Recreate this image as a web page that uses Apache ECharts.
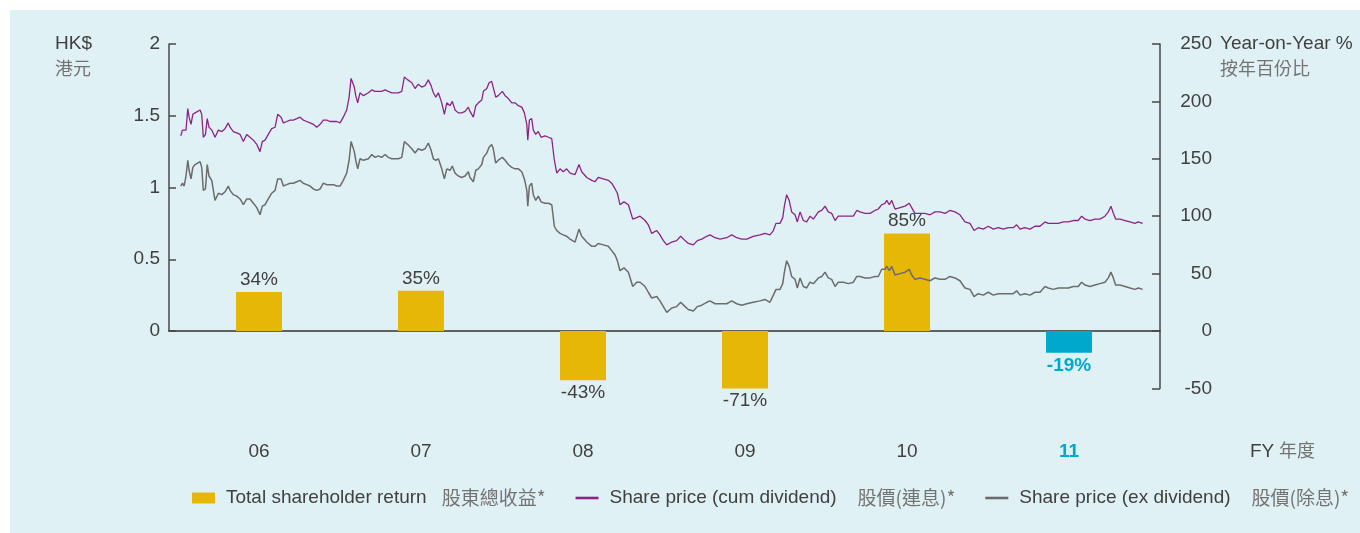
<!DOCTYPE html>
<html><head><meta charset="utf-8">
<script src="https://cdn.jsdelivr.net/npm/echarts@6/dist/echarts.min.js"></script>
<style>html,body{margin:0;padding:0;background:#fff}#c{width:1360px;height:533px}</style>
</head><body><div id="c"></div>
<script>
// ---- Data ----
const years = ['06','07','08','09','10','11'];
const tsr = [34, 35, -43, -71, 85, -19];           // Total shareholder return, %
const legendNames = ['Total shareholder return', 'Share price (cum dividend)', 'Share price (ex dividend)'];
const legendZh = ['股東總收益*', '股價(連息)*', '股價(除息)*'];

// decimal year of each price reading
const dates = [
2005.267,2005.277,2005.287,2005.299,2005.310,2005.318,2005.330,2005.341,2005.355,2005.367,
2005.386,2005.396,2005.406,2005.419,2005.430,2005.441,2005.458,2005.478,2005.499,2005.520,
2005.540,2005.560,2005.571,2005.591,2005.612,2005.633,2005.653,2005.674,2005.694,2005.715,
2005.736,2005.756,2005.770,2005.787,2005.807,2005.828,2005.849,2005.865,2005.886,2005.900,
2005.921,2005.941,2005.962,2005.983,2006.003,2006.023,2006.044,2006.065,2006.085,2006.106,
2006.127,2006.147,2006.168,2006.188,2006.209,2006.230,2006.250,2006.270,2006.291,2006.306,
2006.318,2006.328,2006.338,2006.347,2006.359,2006.373,2006.394,2006.425,2006.446,2006.466,
2006.486,2006.507,2006.528,2006.548,2006.569,2006.590,2006.610,2006.631,2006.647,2006.668,
2006.693,2006.713,2006.733,2006.754,2006.775,2006.795,2006.812,2006.826,2006.841,2006.857,
2006.878,2006.894,2006.909,2006.929,2006.943,2006.960,2006.980,2007.001,2007.022,2007.042,
2007.052,2007.073,2007.088,2007.104,2007.125,2007.135,2007.156,2007.170,2007.186,2007.196,
2007.211,2007.227,2007.252,2007.269,2007.289,2007.310,2007.330,2007.351,2007.372,2007.388,
2007.403,2007.409,2007.419,2007.433,2007.443,2007.458,2007.474,2007.491,2007.515,2007.536,
2007.557,2007.573,2007.588,2007.608,2007.628,2007.649,2007.670,2007.701,2007.725,2007.742,
2007.773,2007.804,2007.824,2007.844,2007.875,2007.906,2007.927,2007.948,2007.962,2007.978,
2008.003,2008.030,2008.057,2008.081,2008.102,2008.133,2008.153,2008.174,2008.205,2008.225,
2008.246,2008.267,2008.298,2008.328,2008.353,2008.380,2008.400,2008.431,2008.456,2008.483,
2008.514,2008.534,2008.565,2008.596,2008.637,2008.668,2008.699,2008.730,2008.761,2008.801,
2008.843,2008.873,2008.904,2008.925,2008.941,2008.966,2008.983,2008.993,2009.007,2009.023,
2009.038,2009.059,2009.073,2009.090,2009.110,2009.131,2009.151,2009.172,2009.203,2009.224,
2009.244,2009.264,2009.285,2009.306,2009.326,2009.357,2009.388,2009.419,2009.440,2009.460,
2009.491,2009.522,2009.552,2009.573,2009.594,2009.614,2009.625,2009.641,2009.656,2009.676,
2009.707,2009.738,2009.764,2009.779,2009.799,2009.830,2009.861,2009.892,2009.923,2009.954,
2009.985,2010.015,2010.046,2010.077,2010.108,2010.139,2010.164,2010.190,2010.221,2010.252,
2010.283,2010.314,2010.344,2010.375,2010.406,2010.427,2010.448,2010.478,2010.509,2010.540,
2010.571,2010.602,2010.622,2010.653,2010.684,2010.715,2010.746,2010.777,2010.807,2010.828,
2010.849,2010.880,2010.910,2010.941,2010.972,2010.993,2011.009,2011.024,2011.038,2011.065,
2011.096,2011.127,2011.157,2011.178,2011.205
];

// HK$
const cumPrice = [
1.36,1.40,1.39,1.40,1.55,1.49,1.44,1.51,1.52,1.53,
1.54,1.51,1.35,1.37,1.48,1.42,1.40,1.35,1.40,1.39,
1.41,1.45,1.42,1.39,1.38,1.37,1.32,1.37,1.35,1.33,
1.30,1.25,1.32,1.33,1.37,1.41,1.42,1.51,1.49,1.45,
1.46,1.47,1.47,1.48,1.49,1.47,1.46,1.45,1.44,1.42,
1.44,1.47,1.47,1.46,1.46,1.46,1.45,1.49,1.54,1.63,
1.76,1.75,1.70,1.64,1.59,1.66,1.64,1.66,1.68,1.67,
1.67,1.67,1.68,1.67,1.66,1.66,1.66,1.67,1.77,1.75,
1.73,1.69,1.72,1.70,1.71,1.75,1.71,1.66,1.63,1.66,
1.59,1.51,1.59,1.57,1.60,1.54,1.52,1.52,1.53,1.56,
1.53,1.49,1.57,1.59,1.61,1.67,1.69,1.73,1.74,1.73,
1.63,1.64,1.67,1.64,1.62,1.59,1.59,1.57,1.56,1.52,
1.44,1.33,1.47,1.48,1.40,1.37,1.39,1.35,1.36,1.35,
1.34,1.19,1.10,1.13,1.11,1.13,1.10,1.09,1.16,1.11,
1.07,1.05,1.04,1.07,1.06,1.05,1.03,0.99,0.96,0.88,
0.90,0.88,0.78,0.79,0.80,0.77,0.74,0.68,0.70,0.67,
0.63,0.60,0.62,0.63,0.66,0.63,0.61,0.60,0.63,0.64,
0.66,0.67,0.65,0.64,0.65,0.67,0.65,0.64,0.64,0.66,
0.67,0.68,0.67,0.70,0.75,0.75,0.79,0.87,0.95,0.91,
0.83,0.81,0.76,0.83,0.77,0.76,0.80,0.78,0.83,0.84,
0.87,0.83,0.82,0.77,0.80,0.80,0.80,0.80,0.84,0.83,
0.82,0.82,0.84,0.85,0.88,0.89,0.91,0.88,0.91,0.85,
0.86,0.87,0.89,0.86,0.82,0.82,0.82,0.81,0.83,0.83,
0.82,0.84,0.83,0.81,0.76,0.75,0.70,0.72,0.71,0.73,
0.71,0.72,0.71,0.72,0.72,0.74,0.71,0.72,0.71,0.73,
0.73,0.76,0.75,0.75,0.75,0.76,0.76,0.77,0.77,0.80,
0.78,0.77,0.78,0.78,0.80,0.83,0.87,0.82,0.78,0.78,
0.77,0.76,0.75,0.76,0.75
];

// HK$
const exPrice = [
1.01,1.03,1.01,1.08,1.19,1.12,1.06,1.14,1.16,1.17,
1.18,1.14,0.98,0.99,1.16,1.08,1.05,0.91,0.96,0.95,
0.97,1.01,0.98,0.95,0.94,0.92,0.88,0.92,0.92,0.89,
0.86,0.81,0.87,0.88,0.92,0.96,0.98,1.06,1.06,1.01,
1.02,1.03,1.03,1.04,1.05,1.03,1.02,1.01,0.99,0.98,
0.99,1.03,1.02,1.02,1.02,1.01,1.01,1.05,1.10,1.19,
1.32,1.31,1.25,1.19,1.13,1.20,1.19,1.20,1.23,1.21,
1.22,1.21,1.23,1.21,1.20,1.20,1.20,1.21,1.32,1.30,
1.27,1.24,1.27,1.26,1.27,1.31,1.26,1.20,1.19,1.20,
1.13,1.06,1.13,1.12,1.15,1.10,1.08,1.07,1.08,1.11,
1.07,1.04,1.12,1.13,1.16,1.21,1.24,1.28,1.30,1.27,
1.17,1.19,1.21,1.19,1.16,1.14,1.13,1.13,1.11,1.06,
0.98,0.87,1.01,1.03,0.95,0.91,0.94,0.90,0.89,0.89,
0.88,0.73,0.70,0.68,0.67,0.66,0.64,0.62,0.71,0.66,
0.62,0.59,0.59,0.61,0.60,0.59,0.56,0.53,0.49,0.42,
0.44,0.41,0.31,0.34,0.34,0.31,0.27,0.23,0.24,0.21,
0.17,0.13,0.16,0.17,0.20,0.17,0.15,0.14,0.17,0.18,
0.20,0.21,0.19,0.19,0.19,0.21,0.19,0.18,0.19,0.20,
0.21,0.22,0.20,0.25,0.29,0.29,0.33,0.41,0.49,0.45,
0.38,0.36,0.30,0.37,0.31,0.30,0.34,0.33,0.37,0.38,
0.41,0.37,0.36,0.31,0.34,0.34,0.33,0.34,0.38,0.38,
0.37,0.37,0.38,0.38,0.43,0.43,0.45,0.42,0.45,0.39,
0.40,0.41,0.43,0.39,0.36,0.37,0.36,0.35,0.37,0.36,
0.36,0.38,0.37,0.35,0.30,0.29,0.24,0.26,0.25,0.27,
0.25,0.26,0.26,0.26,0.26,0.28,0.25,0.26,0.25,0.27,
0.27,0.31,0.30,0.29,0.30,0.30,0.30,0.31,0.31,0.34,
0.32,0.31,0.32,0.33,0.34,0.37,0.41,0.37,0.32,0.32,
0.31,0.30,0.29,0.30,0.29
];

// ---- Styles ----
const FONT = "'Liberation Sans','Noto Sans CJK TC',sans-serif";
const CJK = "'Noto Sans CJK TC','Liberation Sans',sans-serif";
const GOLD = '#e6b707', CYAN = '#00a8cc', PURPLE = '#8c2486', GRAY = '#6c6c6c';
const TXT = '#404040', TXT2 = '#737373', AXIS = '#474747';
const FS = 19;
const hl = years.length - 1;
const LINE_ICON = 'path://M0,0H23V2.6H0Z';

const chart = echarts.init(document.getElementById('c'), null, {renderer: 'canvas'});
chart.setOption({
  backgroundColor: '#ffffff',
  animation: false,
  textStyle: {fontFamily: FONT},
  graphic: [
    {type: 'rect', z: -10, silent: true, shape: {x: 10, y: 10, width: 1350, height: 523}, style: {fill: '#e0f1f6'}},
    {type: 'text', x: 55, y: 44, style: {text: 'HK$', fill: TXT, fontSize: FS, fontFamily: FONT, verticalAlign: 'middle'}},
    {type: 'text', x: 55, y: 68, style: {text: '港元', fill: TXT2, fontSize: FS - 1, fontFamily: CJK, verticalAlign: 'middle'}},
    {type: 'text', x: 1220, y: 44, style: {text: 'Year-on-Year %', fill: TXT, fontSize: FS, fontFamily: FONT, verticalAlign: 'middle'}},
    {type: 'text', x: 1220, y: 68, style: {text: '按年百份比', fill: TXT2, fontSize: FS - 1, fontFamily: CJK, verticalAlign: 'middle'}},
    {type: 'text', x: 1250, y: 452, style: {text: 'FY', fill: TXT, fontSize: FS, fontFamily: FONT, verticalAlign: 'middle'}},
    {type: 'text', x: 1279, y: 450, style: {text: '年度', fill: TXT2, fontSize: FS - 1, fontFamily: CJK, verticalAlign: 'middle'}}
  ],
  grid: [
    {left: 178, top: 44, width: 972, height: 344.4},
    {left: 169, top: 44, width: 991, height: 287}
  ],
  xAxis: [
    {type: 'category', gridIndex: 0, position: 'bottom',
      data: years.map((y, i) => i === hl ? {value: y, textStyle: {color: CYAN, fontWeight: 'bold'}} : y),
      axisLine: {show: false, onZero: false}, axisTick: {show: false},
      axisLabel: {margin: 54, fontSize: FS, color: TXT}},
    {type: 'value', gridIndex: 1, min: 2005.194, max: 2011.312,
      axisLine: {show: true, onZero: false, lineStyle: {color: '#333', width: 1.6}},
      axisTick: {show: false}, axisLabel: {show: false}, splitLine: {show: false}}
  ],
  yAxis: [
    {type: 'value', gridIndex: 0, position: 'right', offset: 10, min: -50, max: 250, interval: 50,
      axisLine: {show: true, lineStyle: {color: AXIS, width: 1.5}},
      axisTick: {show: true, inside: true, length: 8, lineStyle: {color: AXIS, width: 1.5}},
      axisLabel: {align: 'right', margin: 52, fontSize: FS, color: TXT},
      splitLine: {show: false}},
    {type: 'value', gridIndex: 1, position: 'left', min: 0, max: 2, interval: 0.5,
      axisLine: {show: true, lineStyle: {color: AXIS, width: 1.5}},
      axisTick: {show: true, inside: true, length: 7, lineStyle: {color: AXIS, width: 1.5}},
      axisLabel: {margin: 9, fontSize: FS, color: TXT},
      splitLine: {show: false}}
  ],
  legend: {
    left: 192, top: 486, padding: 0, itemWidth: 23, itemHeight: 11, itemGap: 30,
    selectedMode: false,
    data: [
      {name: legendNames[0], icon: 'rect'},
      {name: legendNames[1], icon: LINE_ICON},
      {name: legendNames[2], icon: LINE_ICON}
    ],
    formatter: n => {
      const i = legendNames.indexOf(n);
      return '{en|' + n + '}{' + (i === 0 ? 'z0' : 'z1') + '|' + legendZh[i] + '}';
    },
    textStyle: {fontSize: FS, color: TXT, lineHeight: 24, padding: [0, 0, 0, 6],
      rich: {
        en: {fontSize: FS, color: TXT, fontFamily: FONT},
        z0: {fontSize: FS, color: TXT2, fontFamily: CJK, padding: [0, 0, 0, 15]},
        z1: {fontSize: FS, color: TXT2, fontFamily: CJK, padding: [0, 0, 0, 21]}
      }}
  },
  series: [
    {name: legendNames[0], type: 'bar', xAxisIndex: 0, yAxisIndex: 0, barWidth: 46, z: 2,
      itemStyle: {color: GOLD},
      label: {show: true, formatter: '{c}%', fontSize: FS, color: TXT, distance: 3},
      data: tsr.map((v, i) => ({
        value: v,
        itemStyle: {color: i === hl ? CYAN : GOLD},
        label: {position: v >= 0 ? 'top' : 'bottom', color: i === hl ? CYAN : TXT, fontWeight: i === hl ? 'bold' : 'normal'}
      }))},
    {name: legendNames[1], type: 'line', xAxisIndex: 1, yAxisIndex: 1, z: 4,
      symbol: 'none', showSymbol: false, lineStyle: {color: PURPLE, width: 1.3}, itemStyle: {color: PURPLE},
      data: dates.map((t, i) => [t, cumPrice[i]])},
    {name: legendNames[2], type: 'line', xAxisIndex: 1, yAxisIndex: 1, z: 4,
      symbol: 'none', showSymbol: false, lineStyle: {color: GRAY, width: 1.5}, itemStyle: {color: GRAY},
      data: dates.map((t, i) => [t, exPrice[i]])}
  ]
});
</script>
</body></html>
